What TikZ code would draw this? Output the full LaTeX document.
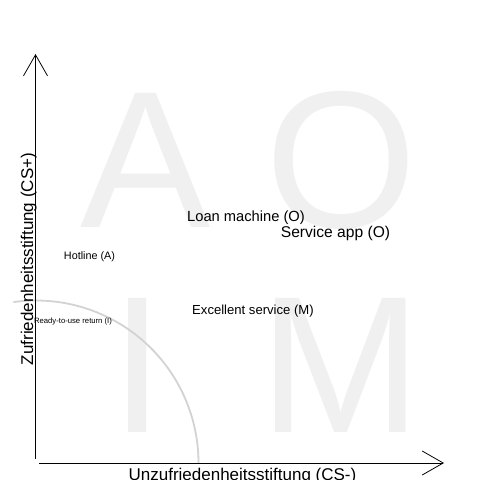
\documentclass[tikz,border=0pt]{standalone}
\usepackage{fontspec}
\setmainfont{Liberation Sans}
\usetikzlibrary{arrows.meta}
\definecolor{bigletter}{RGB}{240,240,240}
\definecolor{arcgray}{RGB}{211,211,211}
\tikzset{
  quadletter/.style={anchor=base,inner sep=0pt,text=bigletter,font=\fontsize{195}{195}\selectfont},
  item/.style={anchor=base,inner sep=0pt,text=black},
  axislabel/.style={anchor=base,inner sep=0pt,text=black,font=\fontsize{17}{17}\selectfont},
  axisline/.style={draw=black,line width=1pt,-{Straight Barb[length=21pt,width=24pt,line width=0.8pt]}},
}
\begin{document}
\begin{tikzpicture}[x=1pt,y=-1pt]
\useasboundingbox (0,0) rectangle (480,480);
\fill[white] (0,0) rectangle (480,480);
% quadrant letters
\node[quadletter] (qa) at (146,227) {A};
\node[quadletter] (qo) at (341,227) {O};
\node[quadletter] (qi) at (137.5,432) {I};
\node[quadletter] (qm) at (340.5,432) {M};
% indifference arc
\coordinate (origin) at (36,463);
\draw[arcgray,line width=1.8pt] (origin) ++(-98:162.5) arc[start angle=-98,end angle=0,radius=162.5];
% axes
\coordinate (yb) at (35.5,459);
\coordinate (yt) at (35.5,54);
\coordinate (xl) at (39,463);
\coordinate (xr) at (444,463);
\draw[axisline] (yb) -- (yt);
\draw[axisline] (xl) -- (xr);
% axis labels
\node[axislabel,rotate=90] (ylab) at (33,259) {Zufriedenheitsstiftung (CS+)};
\node[axislabel] (xlab) at (242.5,480) {Unzufriedenheitsstiftung (CS-)};
% items
\node[item,font=\fontsize{14.7}{14.7}\selectfont] (loan) at (246,221) {Loan machine (O)};
\node[item,font=\fontsize{15.6}{15.6}\selectfont] (app) at (335.5,237) {Service app (O)};
\node[item,font=\fontsize{10.8}{10.8}\selectfont] (hot) at (89.5,259) {Hotline (A)};
\node[item,font=\fontsize{13.1}{13.1}\selectfont] (exc) at (253,314) {Excellent service (M)};
\node[item,font=\fontsize{7.7}{7.7}\selectfont] (ready) at (73,323) {Ready-to-use return (I)};
\end{tikzpicture}
\end{document}
